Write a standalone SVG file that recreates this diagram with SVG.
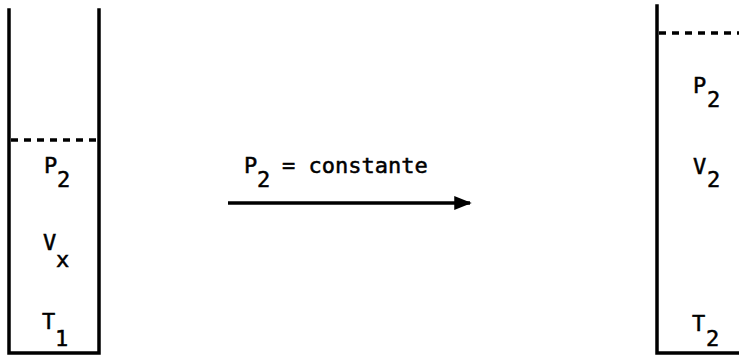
<svg xmlns="http://www.w3.org/2000/svg" width="739" height="358" viewBox="0 0 739 358">
<style>
.wall{fill:none;stroke:#000;stroke-width:3.5;stroke-linecap:square}
.piston{fill:none;stroke:#000;stroke-width:3.5;stroke-dasharray:7 6}
.t{font-family:"DejaVu Sans Mono","Liberation Mono",monospace;font-size:22px;fill:#000;stroke:#000;stroke-width:0.5}
.arrow{stroke:#000;stroke-width:3.5;fill:none}
</style>
<defs>
<marker id="ah" markerWidth="5" markerHeight="4" refX="4.5" refY="2" orient="auto" markerUnits="strokeWidth">
<path d="M0,0 L5,2 L0,4 Z" fill="#000"/>
</marker>
</defs>
<rect width="739" height="358" fill="#fff"/>
<g id="cylinder-initial">
<path class="wall" d="M9,10 V353 H99 V10"/>
<line class="piston" x1="11" y1="140" x2="97" y2="140"/>
<text class="t" x="44" y="173">P</text><text class="t" x="57" y="187">2</text>
<text class="t" x="43" y="250">V</text><text class="t" x="56" y="267">x</text>
<text class="t" x="42" y="329">T</text><text class="t" x="55" y="346">1</text>
</g>
<g id="cylinder-final">
<path class="wall" d="M657,6 V353 H739"/>
<line class="piston" x1="659" y1="33" x2="739" y2="33"/>
<text class="t" x="693" y="93">P</text><text class="t" x="707" y="107">2</text>
<text class="t" x="693" y="174">V</text><text class="t" x="707" y="187">2</text>
<text class="t" x="692" y="331">T</text><text class="t" x="706" y="346">2</text>
</g>
<g id="connectors">
<line class="arrow" x1="228" y1="203" x2="470" y2="203" marker-end="url(#ah)"/>
<g id="arrow-label">
<text class="t" x="244" y="173">P</text><text class="t" x="257" y="187">2</text>
<text class="t" x="282" y="173">= constante</text>
</g>
</g>
</svg>
